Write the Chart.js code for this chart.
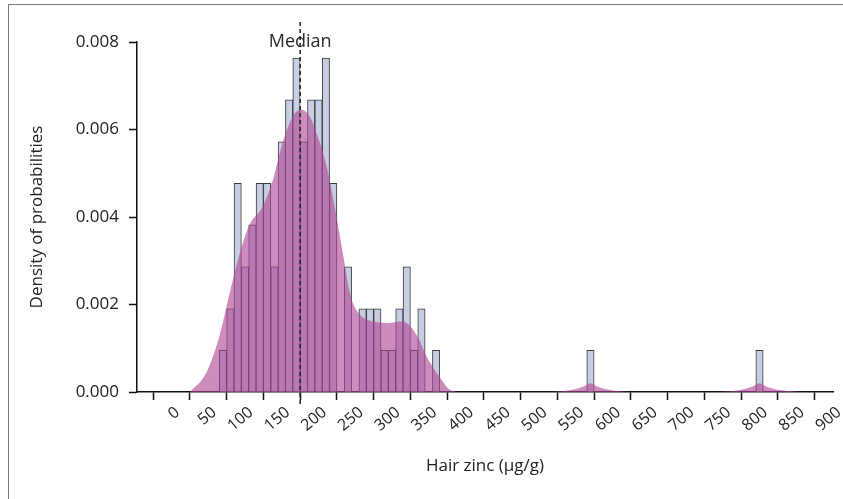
<!DOCTYPE html>
<html>
<head>
<meta charset="utf-8">
<title>Hair zinc density</title>
<script src="https://cdn.jsdelivr.net/npm/chart.js@4.4.1/dist/chart.umd.min.js"></script>
<style>
  html, body { margin: 0; padding: 0; background: #fff; }
  #wrap { position: relative; width: 843px; height: 499px; overflow: hidden; }
  #frame { position: absolute; left: 8px; top: 4px; width: 860px; height: 520px; border: 1px solid #7a7a7a; box-sizing: border-box; }
  canvas { position: absolute; left: 0; top: 0; }
</style>
</head>
<body>
<div id="wrap">
  <div id="frame"></div>
  <canvas id="zincChart" width="843" height="499"></canvas>
</div>
<script>
// Histogram bins (centre of each 10 µg/g bin) and their densities
const binCenters = [70, 80, 90, 100, 110, 120, 130, 140, 150, 160, 170, 180, 190, 200, 210, 220,
                    230, 240, 250, 260, 270, 280, 290, 300, 310, 320, 330, 340, 350, 360, 570, 800];
const binDensity = [0.00095, 0.0019, 0.00477, 0.00286, 0.00382, 0.00477, 0.00477, 0.00286,
                    0.00572, 0.00668, 0.00763, 0.00572, 0.00668, 0.00668, 0.00763, 0.00477,
                    0, 0.00286, 0, 0.0019, 0.0019, 0.0019, 0.00095, 0.00095,
                    0.0019, 0.00286, 0.00095, 0.0019, 0, 0.00095, 0.00095, 0.00095];

// Density curve
const kdeX = [25, 47, 65, 79, 93, 106, 124, 138, 151, 165, 176, 188, 199, 211, 222, 233, 244, 256,
              270, 283, 297, 310, 320, 329, 338, 347, 358, 369, 378, 395,
              515, 545, 560, 570, 580, 595, 625, 745, 775, 790, 800, 810, 825, 855];
const kdeY = [0, 0.00043, 0.00127, 0.00226, 0.00318, 0.00382, 0.00424, 0.00485, 0.00569, 0.0063,
              0.00645, 0.0063, 0.00584, 0.00516, 0.00424, 0.00318, 0.00218, 0.00178,
              0.00163, 0.00159, 0.00158, 0.00161, 0.00158, 0.00142, 0.00116, 0.00081, 0.00051,
              0.00024, 0.00006, 0,
              0, 0.00005, 0.00012, 0.0002, 0.00012, 0.00005, 0, 0, 0.00005, 0.00012, 0.0002,
              0.00012, 0.00005, 0];

const xTicks = [0, 50, 100, 150, 200, 250, 300, 350, 400, 450, 500, 550, 600, 650, 700, 750, 800, 850, 900];
const yTicks = [0, 0.002, 0.004, 0.006, 0.008];
const medianZinc = 175;

const FONT = '"Open Sans", "DejaVu Sans", sans-serif';

// dashed median marker with its label
const medianLine = {
    id: 'medianLine',
    afterDatasetsDraw(chart) {
        const ctx = chart.ctx;
        const px = chart.scales.x.getPixelForValue(medianZinc);
        ctx.save();
        ctx.font = '18px ' + FONT;
        ctx.fillStyle = '#2a2a2a';
        ctx.textAlign = 'center';
        ctx.fillText('Median', px, 47);
        ctx.strokeStyle = '#222';
        ctx.lineWidth = 1.5;
        ctx.setLineDash([4, 3]);
        ctx.beginPath();
        ctx.moveTo(px, 22);
        ctx.lineTo(px, 405);
        ctx.stroke();
        ctx.restore();
    }
};

const ctx = document.getElementById('zincChart').getContext('2d');
const zincChart = new Chart(ctx, {
    type: 'bar',
    data: {
        datasets: [{
            type: 'line',
            data: kdeX.map((x, i) => ({ x: x, y: kdeY[i] })),
            fill: 'origin',
            backgroundColor: 'rgba(176, 70, 150, 0.62)',
            borderColor: 'rgba(0, 0, 0, 0)',
            borderWidth: 0,
            pointRadius: 0,
            cubicInterpolationMode: 'monotone',
            order: 0
        }, {
            type: 'bar',
            data: binCenters.map((x, i) => ({ x: x, y: binDensity[i] })),
            backgroundColor: '#c7cee2',
            borderColor: '#3a3a3a',
            borderWidth: 1,
            barPercentage: 1,
            categoryPercentage: 1,
            order: 1
        }]
    },
    options: {
        responsive: false,
        animation: false,
        layout: { padding: { left: 20, top: 42, right: 10, bottom: 20 } },
        plugins: {
            legend: { display: false },
            tooltip: { enabled: false }
        },
        scales: {
            x: {
                type: 'linear',
                min: -47,
                max: 900,
                offset: false,
                afterBuildTicks: scale => { scale.ticks = xTicks.map(v => ({ value: v })); },
                afterFit: scale => {
                    scale.height = 87;
                    scale.paddingLeft = 0;
                    scale.paddingRight = 0;
                },
                ticks: {
                    autoSkip: false,
                    minRotation: 40,
                    maxRotation: 40,
                    padding: 3,
                    labelOffset: 6,
                    color: '#222',
                    font: { family: FONT, size: 16 }
                },
                grid: { drawOnChartArea: false, tickLength: 8, color: '#111', tickWidth: 1.5 },
                border: { color: '#111', width: 1.5 },
                title: {
                    display: true,
                    text: 'Hair zinc (µg/g)',
                    color: '#222',
                    padding: { top: 0, bottom: 3 },
                    font: { family: FONT, size: 17 }
                }
            },
            y: {
                min: 0,
                max: 0.008,
                afterBuildTicks: scale => { scale.ticks = yTicks.map(v => ({ value: v })); },
                afterFit: scale => { scale.width = 117; },
                ticks: {
                    padding: 10,
                    color: '#222',
                    callback: v => v.toFixed(3),
                    font: { family: FONT, size: 17 }
                },
                grid: { drawOnChartArea: false, tickLength: 8, color: '#111', tickWidth: 1.5 },
                border: { color: '#111', width: 1.5 },
                title: {
                    display: true,
                    text: 'Density of probabilities',
                    color: '#222',
                    padding: { top: 7, bottom: 0 },
                    font: { family: FONT, size: 17 }
                }
            }
        }
    },
    plugins: [medianLine]
});
</script>
</body>
</html>
